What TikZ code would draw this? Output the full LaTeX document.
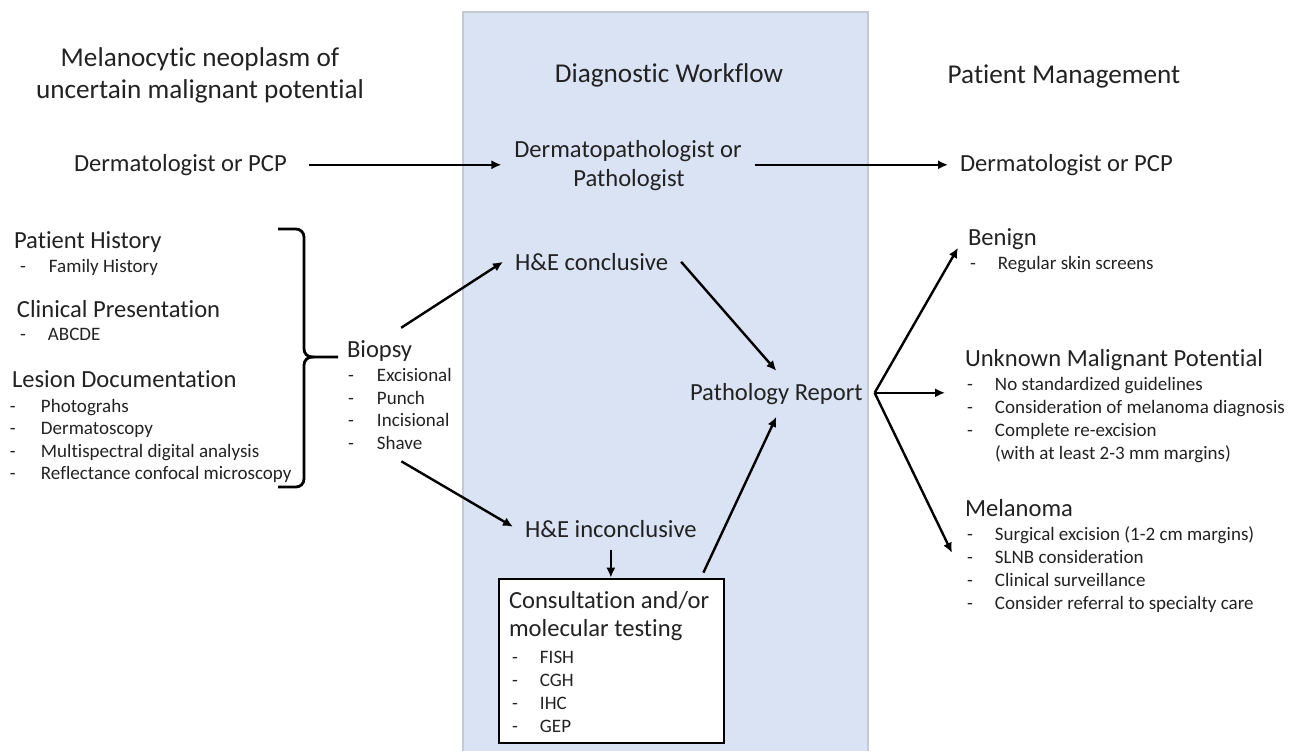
\documentclass[tikz,border=0pt]{standalone}
\usepackage{fontspec}
\setmainfont{Carlito}[Ligatures=NoCommon]
\usetikzlibrary{arrows.meta}
\definecolor{tc}{HTML}{222222}
\definecolor{panel}{HTML}{DAE3F3}
\definecolor{paneledge}{HTML}{C3CAD6}
\newcommand{\dsh}[1]{\makebox[#1][l]{-}}
\begin{document}
\begin{tikzpicture}[x=0.5pt,y=-0.5pt,
  txt/.style={inner sep=0pt,outer sep=0pt,text=tc,font=\fontsize{12.3}{14}\selectfont,text height=8.6pt,text depth=2.4pt},
  head/.style={txt,font=\fontsize{13.6}{16}\selectfont},
  sm/.style={inner sep=0pt,outer sep=0pt,text=tc,font=\fontsize{9.5}{11}\selectfont,text height=6.6pt,text depth=1.9pt},
  arr/.style={-{Latex[length=5pt,width=4.6pt]},line width=1.2pt,black},
  bracestyle/.style={line width=1.4pt,black,rounded corners=4pt},
  boxst/.style={draw=black,line width=1.4pt,fill=white,minimum width=112.5pt,minimum height=82pt,inner sep=0pt}]
\useasboundingbox (0,0) rectangle (1297,751);
% panel
\fill[panel] (463,12) rectangle (868,751);
\draw[paneledge,line width=0.6pt] (463,751) -- (463,12) -- (868,12) -- (868,751);

% headings
\node[head,anchor=base] (hl1) at (200,66) {Melanocytic neoplasm of};
\node[head,anchor=base] (hl2) at (200,98) {uncertain malignant potential};
\node[head,anchor=base] (hm) at (669,82) {Diagnostic Workflow};
\node[head,anchor=base] (hr) at (1064,83) {Patient Management};

% top row
\node[txt,anchor=base west] (dL) at (74,171) {Dermatologist or PCP};
\node[txt,anchor=base] (dp1) at (628,157) {Dermatopathologist or};
\node[txt,anchor=base] (dp2) at (629,186) {Pathologist};
\node[txt,anchor=base west] (dR) at (960,171) {Dermatologist or PCP};

% left column
\node[txt,anchor=base west] (ph) at (14,248) {Patient History};
\node[sm,anchor=base west] (ph1) at (20,272) {\dsh{14.5pt}Family History};
\node[txt,anchor=base west] (cp) at (17,317) {Clinical Presentation};
\node[sm,anchor=base west] (cp1) at (20,340.5) {\dsh{14pt}ABCDE};
\node[txt,anchor=base west] (ld) at (12,387) {Lesion Documentation};
\node[sm,anchor=base west] (ld1) at (10,412) {\dsh{15.5pt}Photograhs};
\node[sm,anchor=base west] (ld2) at (10,434.5) {\dsh{15.5pt}Dermatoscopy};
\node[sm,anchor=base west] (ld3) at (10,457) {\dsh{15.5pt}Multispectral digital analysis};
\node[sm,anchor=base west] (ld4) at (10,479.5) {\dsh{15.5pt}Reflectance confocal microscopy};

% brace
\draw[bracestyle] (278,229) -- (304,229) -- (304,357) -- (338,357);
\draw[bracestyle] (278,487) -- (304,487) -- (304,357) -- (314,357);

% biopsy
\node[txt,anchor=base west] (bio) at (347,357) {Biopsy};
\node[sm,anchor=base west] (b1) at (348,381.5) {\dsh{14.5pt}Excisional};
\node[sm,anchor=base west] (b2) at (348,404) {\dsh{14.5pt}Punch};
\node[sm,anchor=base west] (b3) at (348,426.5) {\dsh{14.5pt}Incisional};
\node[sm,anchor=base west] (b4) at (348,449.5) {\dsh{14.5pt}Shave};

% middle column
\node[txt,anchor=base west] (hc) at (515,270) {H\&E conclusive};
\node[txt,anchor=base west] (hi) at (525,537) {H\&E inconclusive};
\node[txt,anchor=base west] (pr) at (690,400) {Pathology Report};
\node[boxst] (box) at (611.5,661) {};
\node[txt,anchor=base west] (bx1) at (509,608) {Consultation and/or};
\node[txt,anchor=base west] (bx2) at (509,636) {molecular testing};
\node[sm,anchor=base west] (bx3) at (512,663.5) {\dsh{14pt}FISH};
\node[sm,anchor=base west] (bx4) at (512,686.5) {\dsh{14pt}CGH};
\node[sm,anchor=base west] (bx5) at (512,709.5) {\dsh{14pt}IHC};
\node[sm,anchor=base west] (bx6) at (512,732) {\dsh{14pt}GEP};

% right column
\node[txt,anchor=base west] (ben) at (968,245) {Benign};
\node[sm,anchor=base west] (ben1) at (970,269) {\dsh{14pt}Regular skin screens};
\node[txt,anchor=base west] (unk) at (965,366.5) {Unknown Malignant Potential};
\node[sm,anchor=base west] (unk1) at (967,390) {\dsh{14pt}No standardized guidelines};
\node[sm,anchor=base west] (unk2) at (967,413) {\dsh{14pt}Consideration of melanoma diagnosis};
\node[sm,anchor=base west] (unk3) at (967,436.5) {\dsh{14pt}Complete re-excision};
\node[sm,anchor=base west] (unk4) at (995,459) {(with at least 2-3 mm margins)};
\node[txt,anchor=base west] (mel) at (965,516) {Melanoma};
\node[sm,anchor=base west] (mel1) at (967,540.5) {\dsh{14pt}Surgical excision (1-2 cm margins)};
\node[sm,anchor=base west] (mel2) at (967,563.5) {\dsh{14pt}SLNB consideration};
\node[sm,anchor=base west] (mel3) at (967,586.5) {\dsh{14pt}Clinical surveillance};
\node[sm,anchor=base west] (mel4) at (967,609) {\dsh{14pt}Consider referral to specialty care};

% connectors
\draw[arr] ([xshift=11pt]dL.east) -- ([xshift=-6.5pt]dL.east -| dp1.west);
\draw[arr] ([xshift=6.5pt]dp1.east |- dR.west) -- ([xshift=-6pt]dR.west);
\draw[arr] ([shift={(-11,-12)}]bio.north east) -- ([shift={(-12,-2)}]hc.west);
\draw[arr] ([shift={(-21,8)}]b4.south east) -- ([shift={(-12,-4)}]hi.west);
\draw[arr] ([yshift=-4pt]hi.south) -- (hi.south |- box.north);
\draw[arr] ([shift={(-22,-5)}]box.north east) -- ([shift={(0,12)}]pr.south);
\draw[arr] ([shift={(13,-2)}]hc.east) -- ([shift={(0,-12)}]pr.north);
\coordinate (fan) at ([shift={(12,-1)}]pr.east);
\draw[arr] (fan) -- ([shift={(-10,-2)}]ben.south west);
\draw[arr] (fan) -- ([xshift=-10pt]fan -| unk.west);
\draw[arr] (fan) -- ([shift={(-15,8.5)}]mel1.south west);
\end{tikzpicture}
\end{document}
